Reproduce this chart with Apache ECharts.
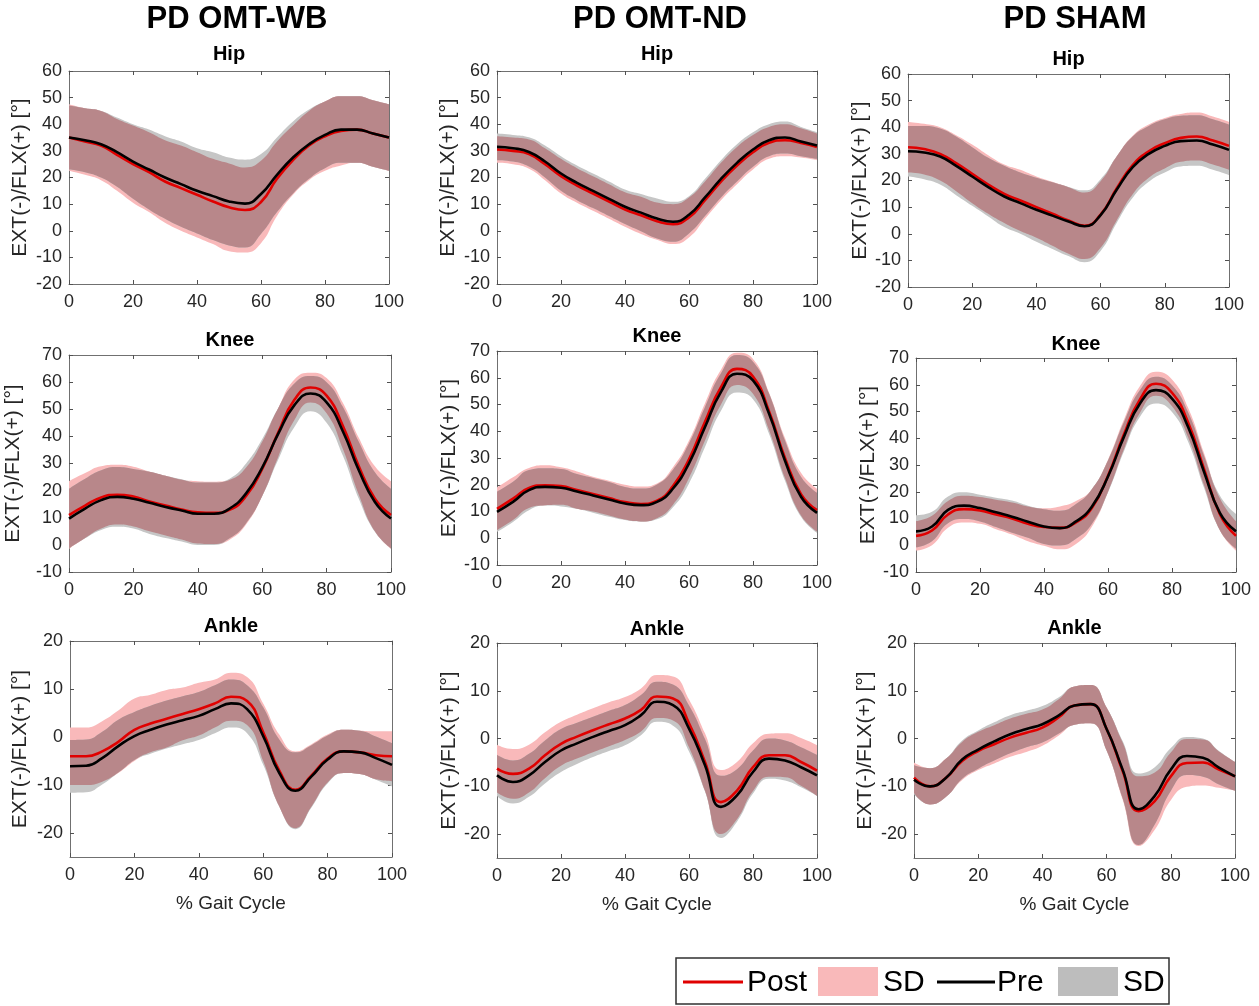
<!DOCTYPE html>
<html>
<head>
<meta charset="utf-8">
<script src="https://cdn.jsdelivr.net/npm/echarts@6/dist/echarts.min.js"></script>
<style>
html,body{margin:0;padding:0;background:#fff;}
#main{width:1259px;height:1006px;}
</style>
</head>
<body>
<div id="main"></div>
<script>
// % gait cycle
var gaitPct = [0,5,10,15,20,25,30,35,40,45,50,55,60,65,70,75,80,85,90,95,100];

var groupNames = ['PD OMT-WB', 'PD OMT-ND', 'PD SHAM'];
var jointNames = ['Hip', 'Knee', 'Ankle'];

// ---- Hip ----
var wbHipPre    = [35,34,32.5,29.5,26,23,20,17.5,15,13,11,10.2,13.8,21,27.5,32.5,36,38,38,36.5,35];
var wbHipPreSd  = [12,12,12.5,13,14,15,15.5,16,16,16.5,16.5,16.5,15,14,13.5,13,12.5,12.5,12.5,12.5,12.5];
var wbHipPost   = [35,33.5,32,28.5,25,22,18.5,16,13.5,11,8.8,7.8,10.8,19.5,26.5,32,35.5,37.5,38,36.5,35];
var wbHipPostSd = [12.5,12.5,13,13.5,14.5,15,15.5,16,16,16,16.5,16,15.5,14,13,13,13,13,12.5,12.5,12.5];

var ndHipPre    = [31.5,31,29.6,26,21.5,18,15,12,9,6.8,4.6,3.4,6,12.5,19.5,25.5,30.5,34,35,33.5,32];
var ndHipPreSd  = [5,5,5.5,6,6.5,6.5,6.5,6.5,6.5,7,7.5,7.5,7,7,7,7,6.5,6,6,5.5,5];
var ndHipPost   = [30.5,30,28.8,25,20.5,17,14,11,8,5.8,3.6,2.5,5,11.5,18.5,24.5,29.5,33,34,33,31.5];
var ndHipPostSd = [5,5,5.5,6,6.5,6.5,6.5,6.5,6.5,7,7,7.5,7.5,7,7,7,6.5,6,6,5.5,5];

var shHipPre    = [31,30.5,29,25.5,21.5,17.5,14,11.5,9,6.8,4.6,2.8,7,16.5,25,30,33,34.8,35,33.5,31.5];
var shHipPreSd  = [9.5,10,10.5,11,11,11,11.5,11.5,12,12.5,13,13.5,13.5,12.5,11.5,10.5,10,9.5,9.5,9.5,9.5];
var shHipPost   = [32.5,31.8,30,26.5,22.5,18.5,15,12.5,10,7.5,5,3,7.2,17,25.8,31,34,36,36.5,35,33];
var shHipPostSd = [9.5,9.5,10,10.5,11,11,11,11.5,11.5,12,12.5,12.5,12.5,12,11,10,9.5,9,9,9,9];

// ---- Knee ----
var wbKneePre    = [9.7,13.4,16.5,17.7,17,15.5,14,12.7,11.5,11.5,13.5,19,28.5,41,51.5,55.8,52.5,42,27.5,15.8,9.7];
var wbKneePreSd  = [11,11,11,11,11,11.5,11.5,11.5,11.5,11.5,11,11,10.5,9.5,8,6.5,7.5,9,10.5,11,11];
var wbKneePost   = [11,14.5,17.5,18.5,17.8,16,14.5,13,12,11.8,13,18,28,41.5,53.5,58,55,44,29,17,11];
var wbKneePostSd = [12.5,12,11.5,11,11,11,11,11,11.5,11.5,11,10.5,10,9,7.5,5.5,6.5,8.5,10.5,12,12.5];

var ndKneePre    = [9.9,13.6,18,19.2,18.9,17.5,16,14.5,13,12.4,13.6,18.6,28,41.6,54.7,61.5,59,46.6,29,15.5,9.5];
var ndKneePreSd  = [7.5,7.5,7.5,7,7,6.5,6.5,6.5,6.2,6.2,6.5,7,7.5,7.5,7,7,7,7.5,7.5,7.5,7.5];
var ndKneePost   = [11,14.8,18.8,19.8,19.5,18,16.5,15,13.5,12.8,14,19.5,29.5,43.5,56.5,63.3,60.5,47.5,30,16.5,10.5];
var ndKneePostSd = [8,8,7.5,7.5,7,7,6.5,6.5,6.5,6.5,6.5,7,7,7,6.5,6,6.5,7,7.5,8,8];

var shKneePre    = [5.2,7,13.2,14.8,13.9,12.3,10.7,8.8,7,6.4,8.9,14.5,25.7,40.6,53,58,54.8,44.3,27.5,12,5.2];
var shKneePreSd  = [6,5.5,5,5,5,5.5,6,6,6.5,6.5,6.5,6.5,6,5.5,5,5,5,5.5,6,6.5,6.5];
var shKneePost   = [3.5,5.5,11.5,13.5,13,11.5,10,8,6.8,6.5,8.5,14,26,41.5,54.5,60.4,57,46,28.5,11.5,3.5];
var shKneePostSd = [5.5,5.5,5,5,5,5.5,6,6.5,7,8,8,7,6,5.5,5,4.5,5,5.5,6,6,5.5];

// ---- Ankle ----
var wbAnklePre    = [-6.1,-6,-4.4,-1.9,0.2,1.5,2.6,3.5,4.4,5.8,7,5.8,0.2,-7.5,-11.2,-8.2,-4.7,-3,-3.2,-4.4,-5.8];
var wbAnklePreSd  = [5.5,5.5,5.5,5.5,5,5,5,5,5,5,5,5,6,7,8,6.5,5,4.5,4.5,4.5,4.5];
var wbAnklePost   = [-4,-4,-3,-1,1.5,2.8,3.8,4.8,5.8,7,8.4,7.5,1,-7,-11,-8,-4.5,-3,-3.2,-3.8,-4];
var wbAnklePostSd = [6,6,6.3,6.5,6.5,6,6,5.5,5.5,5,5,5,6,7.5,8,6.5,5,4.5,4.5,5,5.2];

var ndAnklePre    = [-7.7,-9.1,-7.7,-4.9,-2.5,-1,0.35,1.6,2.8,4.9,7.7,7,2.1,-5.6,-14.3,-11.9,-7,-4.2,-4.6,-6,-7.7];
var ndAnklePreSd  = [4.3,4.5,4.5,4.5,4.5,4.3,4.2,4.2,4.2,4.2,4.2,4.3,4.8,5.5,6.5,5.5,4.5,4.2,4.2,4.2,4.3];
var ndAnklePost   = [-6.3,-7.4,-6.3,-3.5,-1.1,0.4,1.75,3,4.2,6,8.8,8.4,3.2,-4.9,-13.3,-10.9,-6,-3.5,-3.5,-4.9,-6.7];
var ndAnklePostSd = [5,5.2,5,4.8,4.6,4.6,4.6,4.6,4.5,4.5,4.5,4.6,5,6,6.7,6,5,4.5,4.6,5,5.3];

var shAnklePre    = [-8.6,-10,-8.2,-4.4,-2.3,-0.6,0.9,2,3,4.8,6.9,7.2,2,-6.5,-14.8,-12,-6.5,-3.65,-4,-6.1,-7.9];
var shAnklePreSd  = [3,3.8,4,4,4,4,4,3.8,3.8,3.8,4,4,4.5,6,7.5,6,4.5,4,4,3.5,3];
var shAnklePost   = [-8.2,-10,-8.2,-4.7,-2.6,-1.2,0.2,1.2,2.3,4.4,6.9,7.2,2,-6.8,-15.2,-13.1,-7.9,-5.1,-5,-6.5,-7.9];
var shAnklePostSd = [3.2,3.8,4,4,4,4,4,4,3.8,3.8,4,4,4.5,6,7.3,6,5,5,4.8,3.8,3];

var hipTicks   = [-20,-10,0,10,20,30,40,50,60];
var kneeTicks  = [-10,0,10,20,30,40,50,60,70];
var ankleTicks = [-20,-10,0,10,20];

// panels, row by row
var panels = [
    {joint:0, pre:wbHipPre, preSd:wbHipPreSd, post:wbHipPost, postSd:wbHipPostSd},
    {joint:0, pre:ndHipPre, preSd:ndHipPreSd, post:ndHipPost, postSd:ndHipPostSd},
    {joint:0, pre:shHipPre, preSd:shHipPreSd, post:shHipPost, postSd:shHipPostSd},
    {joint:1, pre:wbKneePre, preSd:wbKneePreSd, post:wbKneePost, postSd:wbKneePostSd},
    {joint:1, pre:ndKneePre, preSd:ndKneePreSd, post:ndKneePost, postSd:ndKneePostSd},
    {joint:1, pre:shKneePre, preSd:shKneePreSd, post:shKneePost, postSd:shKneePostSd},
    {joint:2, pre:wbAnklePre, preSd:wbAnklePreSd, post:wbAnklePost, postSd:wbAnklePostSd},
    {joint:2, pre:ndAnklePre, preSd:ndAnklePreSd, post:ndAnklePost, postSd:ndAnklePostSd},
    {joint:2, pre:shAnklePre, preSd:shAnklePreSd, post:shAnklePost, postSd:shAnklePostSd}
];
var yRange = [[-20,60],[-10,70],[-25,20]];
var yTicks = [hipTicks, kneeTicks, ankleTicks];

// layout of each box: left, top, width, height, y-name gap, subtitle top
var boxes = [
    [69,71,320,213,38,44],  [497,71,320,213,38,44],  [908,74,321,213,35,49],
    [69,355,322,217,45,330],[497,351,320,214,36,326],[916,358,320,214,37,334],
    [70,641,322,216,39,616],[497,643,320,215,34,619],[914,643,321,215,38,618]
];
var groupTitleX = [237, 660, 1075];

var FONT = 'Liberation Sans, Arial, sans-serif';
var PINK = '#F9B9BA', GREY = '#C6C6C6', MIX = '#B8878A';
var RED = '#E00000', BLACK = '#000000';

var dom = document.getElementById('main');
var myChart = echarts.init(dom);

var grids = [], xAxes = [], yAxes = [], series = [], titles = [];

function band(i, lo, hi, color, key){
    var diff = hi.map(function(v,k){ return v - lo[k]; });
    series.push({
        type:'line', xAxisIndex:i*2, yAxisIndex:i*2, stack:key+i, stackStrategy:'all',
        data:lo, symbol:'none', smooth:true, silent:true,
        lineStyle:{opacity:0}, z:1
    });
    series.push({
        type:'line', xAxisIndex:i*2, yAxisIndex:i*2, stack:key+i, stackStrategy:'all',
        data:diff, symbol:'none', smooth:true, silent:true,
        lineStyle:{opacity:0}, areaStyle:{color:color, opacity:1}, z:1
    });
}

var axisLine = {show:true, onZero:false, lineStyle:{color:'#707070', width:1}};
var tickStyle = {show:true, inside:true, length:4, lineStyle:{color:'#505050'}};
var labelStyle = {color:'#262626', fontSize:18, fontFamily:FONT};

for (var g = 0; g < 3; g++) {
    titles.push({
        text:groupNames[g], left:groupTitleX[g], top:4, padding:0, textAlign:'center',
        textStyle:{fontSize:31, fontWeight:'bold', color:'#000', fontFamily:FONT}
    });
}

panels.forEach(function(p, i){
    var b = boxes[i];
    var j = p.joint;
    var row = Math.floor(i / 3);
    grids.push({left:b[0], top:b[1], width:b[2], height:b[3], containLabel:false, outerBoundsMode:'none'});

    titles.push({
        text:jointNames[j], left:b[0] + b[2] / 2, top:b[5], padding:0, textAlign:'center',
        textStyle:{fontSize:20, fontWeight:'bold', color:'#000', fontFamily:FONT}
    });

    var bottomX = {
        type:'category', gridIndex:i, position:'bottom', data:gaitPct, boundaryGap:false,
        axisLine:axisLine, splitLine:{show:false},
        axisTick:Object.assign({interval:3}, tickStyle),
        axisLabel:Object.assign({margin:9, interval:3}, labelStyle)
    };
    if (row === 2) {
        bottomX.name = '% Gait Cycle';
        bottomX.nameLocation = 'middle';
        bottomX.nameGap = 37;
        bottomX.nameTextStyle = {color:'#262626', fontSize:19, fontFamily:FONT};
    }
    xAxes.push(bottomX);
    xAxes.push({
        type:'category', gridIndex:i, position:'top', data:gaitPct, boundaryGap:false,
        axisLine:axisLine, splitLine:{show:false},
        axisTick:Object.assign({interval:3}, tickStyle),
        axisLabel:{show:false}
    });

    var yr = yRange[j];
    yAxes.push({
        type:'value', gridIndex:i, position:'left', min:yr[0], max:yr[1],
        name:'EXT(-)/FLX(+) [°]', nameLocation:'middle', nameGap:b[4],
        nameTextStyle:{color:'#262626', fontSize:21, fontFamily:FONT},
        axisLine:axisLine, splitLine:{show:false},
        axisTick:Object.assign({customValues:yTicks[j]}, tickStyle),
        axisLabel:Object.assign({margin:7, customValues:yTicks[j]}, labelStyle)
    });
    yAxes.push({
        type:'value', gridIndex:i, position:'right', min:yr[0], max:yr[1],
        axisLine:axisLine, splitLine:{show:false},
        axisTick:Object.assign({customValues:yTicks[j]}, tickStyle),
        axisLabel:{show:false}
    });

    var postLo = p.post.map(function(v,k){ return v - p.postSd[k]; });
    var postHi = p.post.map(function(v,k){ return v + p.postSd[k]; });
    var preLo = p.pre.map(function(v,k){ return v - p.preSd[k]; });
    var preHi = p.pre.map(function(v,k){ return v + p.preSd[k]; });
    // where both SD bands overlap
    var bothLo = preLo.map(function(v,k){ return Math.max(v, postLo[k]); });
    var bothHi = preHi.map(function(v,k){ return Math.min(v, postHi[k]); });

    band(i, postLo, postHi, PINK, 'post');
    band(i, preLo, preHi, GREY, 'pre');
    band(i, bothLo, bothHi, MIX, 'both');

    series.push({
        name:'Post', type:'line', xAxisIndex:i*2, yAxisIndex:i*2, data:p.post,
        symbol:'none', smooth:true, lineStyle:{color:RED, width:2.6}, z:3
    });
    series.push({
        name:'Pre', type:'line', xAxisIndex:i*2, yAxisIndex:i*2, data:p.pre,
        symbol:'none', smooth:true, lineStyle:{color:BLACK, width:2.6}, z:4
    });
});

// legend box at bottom right
var legendText = {fontSize:30, fontFamily:FONT, fill:'#000', verticalAlign:'middle'};
var graphic = [
    {type:'rect', shape:{x:676, y:958, width:493, height:46}, style:{fill:'#fff', stroke:'#303030', lineWidth:1.5}},
    {type:'line', shape:{x1:683, y1:982, x2:743, y2:982}, style:{stroke:RED, lineWidth:3}},
    {type:'text', x:747, y:983, style:Object.assign({text:'Post'}, legendText)},
    {type:'rect', shape:{x:818, y:967, width:60, height:29}, style:{fill:PINK}},
    {type:'text', x:883, y:983, style:Object.assign({text:'SD'}, legendText)},
    {type:'line', shape:{x1:937, y1:982, x2:995, y2:982}, style:{stroke:BLACK, lineWidth:3}},
    {type:'text', x:997, y:983, style:Object.assign({text:'Pre'}, legendText)},
    {type:'rect', shape:{x:1058, y:967, width:60, height:29}, style:{fill:'#BDBDBD'}},
    {type:'text', x:1123, y:983, style:Object.assign({text:'SD'}, legendText)}
];

var option = {
    backgroundColor:'#fff',
    animation:false,
    title:titles,
    grid:grids,
    xAxis:xAxes,
    yAxis:yAxes,
    series:series,
    graphic:graphic
};

if (option && typeof option === "object") {
    myChart.setOption(option, true);
}
</script>
</body>
</html>
